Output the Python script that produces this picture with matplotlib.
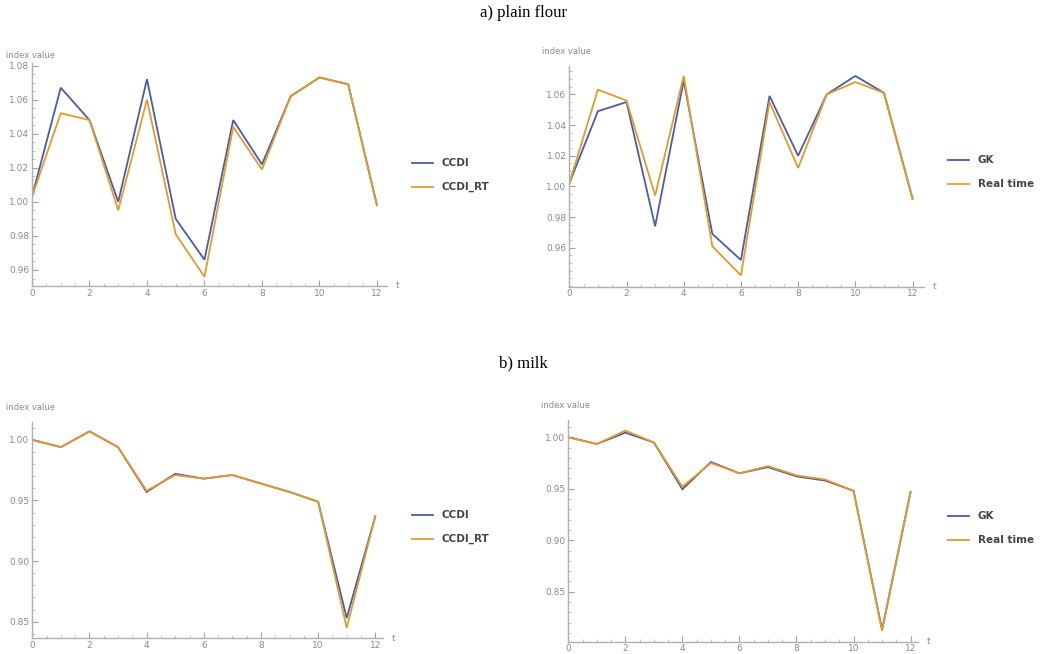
import matplotlib
matplotlib.use("Agg")
import matplotlib.pyplot as plt
from matplotlib.ticker import MultipleLocator, FormatStrFormatter

t = list(range(13))

flour_ccdi    = [1.003, 1.067, 1.048, 1.000, 1.072, 0.990, 0.966, 1.048, 1.022, 1.062, 1.073, 1.069, 0.998]
flour_ccdi_rt = [1.003, 1.052, 1.048, 0.995, 1.060, 0.981, 0.956, 1.044, 1.019, 1.062, 1.073, 1.069, 0.998]
flour_gk      = [1.002, 1.049, 1.055, 0.974, 1.069, 0.969, 0.952, 1.059, 1.020, 1.060, 1.072, 1.061, 0.992]
flour_rt      = [1.002, 1.063, 1.056, 0.994, 1.072, 0.961, 0.942, 1.055, 1.012, 1.060, 1.068, 1.061, 0.992]

milk_ccdi     = [1.000, 0.994, 1.007, 0.994, 0.957, 0.972, 0.968, 0.971, 0.964, 0.957, 0.949, 0.853, 0.937]
milk_ccdi_rt  = [1.000, 0.994, 1.007, 0.994, 0.958, 0.971, 0.968, 0.971, 0.964, 0.957, 0.949, 0.845, 0.937]
milk_gk       = [1.000, 0.9935, 1.0045, 0.995, 0.9495, 0.976, 0.965, 0.971, 0.962, 0.958, 0.948, 0.813, 0.947]
milk_rt       = [1.000, 0.9935, 1.0065, 0.995, 0.952, 0.975, 0.965, 0.972, 0.963, 0.959, 0.948, 0.812, 0.947]

titles = ["a) plain flour", "b) milk"]
legend_left = ["CCDI", "CCDI_RT"]
legend_right = ["GK", "Real time"]

BLUE = "#4b5ba8"
ORANGE = "#e49a2a"
GRAY = "#8a8a8a"

W, H = 1046, 654
fig = plt.figure(figsize=(W / 100, H / 100), dpi=100)

def px(l, r, top, bot):
    return [l / W, 1 - bot / H, (r - l) / W, (bot - top) / H]

panels = [
    dict(rect=px(32, 387, 63, 286), xlim=(0, 12.35), ylim=(0.9506, 1.0815),
         a=flour_ccdi, b=flour_ccdi_rt, labels=legend_left, minor=0.005,
         yticks=[0.96, 0.98, 1.00, 1.02, 1.04, 1.06, 1.08], leg=(412, 163), ylab=(6, 55)),
    dict(rect=px(569.3, 924, 66, 286.7), xlim=(0, 12.4), ylim=(0.9346, 1.0785),
         a=flour_gk, b=flour_rt, labels=legend_right, minor=0.005,
         yticks=[0.96, 0.98, 1.00, 1.02, 1.04, 1.06], leg=(948, 160), ylab=(542, 52)),
    dict(rect=px(32.3, 383, 421.7, 638.3), xlim=(0, 12.27), ylim=(0.8363, 1.015),
         a=milk_ccdi, b=milk_ccdi_rt, labels=legend_left, minor=0.01,
         yticks=[0.85, 0.90, 0.95, 1.00], leg=(412, 515), ylab=(6, 407)),
    dict(rect=px(568.3, 918, 420, 641.7), xlim=(0, 12.26), ylim=(0.8014, 1.0168),
         a=milk_gk, b=milk_rt, labels=legend_right, minor=0.01,
         yticks=[0.85, 0.90, 0.95, 1.00], leg=(948, 516), ylab=(541, 405)),
]

for p in panels:
    ax = fig.add_axes(p["rect"])
    l1, = ax.plot(t, p["a"], color=BLUE, lw=1.3, solid_joinstyle="miter")
    l2, = ax.plot(t, p["b"], color=ORANGE, lw=1.3, solid_joinstyle="miter")
    ax.set_xlim(*p["xlim"])
    ax.set_ylim(*p["ylim"])
    for s in ["top", "right"]:
        ax.spines[s].set_visible(False)
    for s in ["left", "bottom"]:
        ax.spines[s].set_color("#b0b0b0")
        ax.spines[s].set_linewidth(1.0)
    ax.set_xticks(range(0, 13, 2))
    ax.xaxis.set_minor_locator(MultipleLocator(0.5))
    ax.set_yticks(p["yticks"])
    ax.yaxis.set_minor_locator(MultipleLocator(p["minor"]))
    ax.yaxis.set_major_formatter(FormatStrFormatter("%.2f"))
    ax.tick_params(which="major", direction="in", length=4, width=0.8, color="#a0a0a0",
                   labelsize=6.5, labelcolor=GRAY, pad=2)
    ax.tick_params(which="minor", direction="in", length=2, width=0.6, color="#b8b8b8")
    ax.patch.set_alpha(0)
    ax.annotate("t", xy=(1, 0), xycoords="axes fraction", xytext=(6, 0),
                textcoords="offset points", ha="left", va="center", fontsize=6.5, color=GRAY)
    xl, yl = p["ylab"]
    fig.text(xl / W, 1 - yl / H, "index value", ha="left", va="center", fontsize=6, color=GRAY)
    lx, ly = p["leg"]
    for i, (ln, lab) in enumerate(zip([l1, l2], p["labels"])):
        yy = 1 - (ly + i * 24) / H
        fig.add_artist(plt.Line2D([lx / W, (lx + 21) / W], [yy, yy], color=ln.get_color(), lw=1.3))
        fig.text((lx + 30) / W, yy, lab, ha="left", va="center", fontsize=7.5,
                 color="#444444", fontweight="bold")

fig.text(0.5, 1 - 13 / H, titles[0], ha="center", va="center", fontsize=12, family="Liberation Serif")
fig.text(0.5, 1 - 363 / H, titles[1], ha="center", va="center", fontsize=12, family="Liberation Serif")

fig.savefig("out.png", dpi=100, facecolor="white")
